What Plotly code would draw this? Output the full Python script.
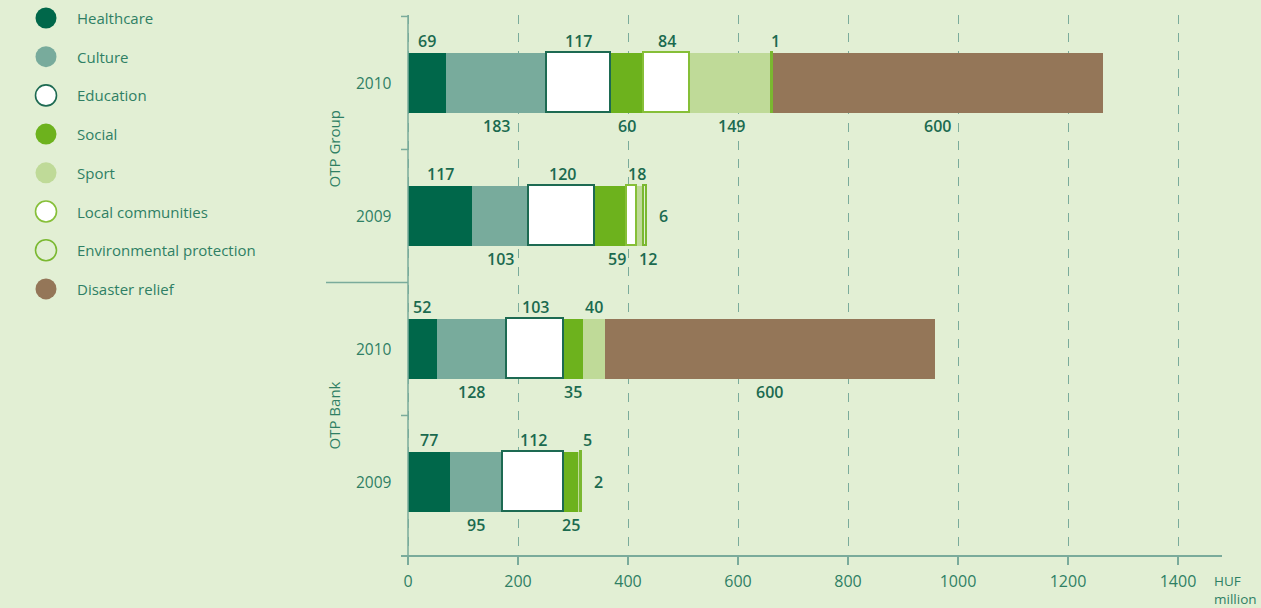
import plotly.graph_objects as go

# ---------------- data ----------------
rows = ["G2010", "G2009", "B2010", "B2009"]
row_years = ["2010", "2009", "2010", "2009"]
groups = ["OTP Group", "OTP Bank"]
series_names = ["Healthcare", "Culture", "Education", "Social",
                "Local communities", "Sport", "Environmental protection", "Disaster relief"]
healthcare = [69, 117, 52, 77]
culture = [183, 103, 128, 95]
education = [117, 120, 103, 112]
social = [60, 59, 35, 25]
local_communities = [84, 18, None, None]
sport = [149, 12, 40, 5]
environmental = [1, 6, None, 2]
disaster = [600, None, 600, None]
legend_order = ["Healthcare", "Culture", "Education", "Social", "Sport",
                "Local communities", "Environmental protection", "Disaster relief"]
x_ticks = [0, 200, 400, 600, 800, 1000, 1200, 1400]
unit_label = "HUF<br>million"

values = {
    "Healthcare": healthcare, "Culture": culture, "Education": education,
    "Social": social, "Local communities": local_communities, "Sport": sport,
    "Environmental protection": environmental, "Disaster relief": disaster,
}

# ---------------- styles ----------------
BG = "#e2efd4"
AXIS = "#7aab9b"
TXT = "#2f7f64"
NUM = "#1b6a4f"
FONT = "Open Sans"
styles = {
    "Healthcare": dict(fill="#00674a", line=None),
    "Culture": dict(fill="#78ab9c", line=None),
    "Education": dict(fill="#ffffff", line="#1d6a52"),
    "Social": dict(fill="#6db21d", line=None),
    "Local communities": dict(fill="#ffffff", line="#86bf38"),
    "Sport": dict(fill="#bfda98", line=None),
    "Environmental protection": dict(fill="rgba(0,0,0,0)", line="#7ab830"),
    "Disaster relief": dict(fill="#947658", line=None),
}

# layout geometry (pixels)
W, H = 1261, 608
L, R, T, B = 401, 39, 15, 53
PW, PH = W - L - R, H - T - B
X_MIN, X_MAX = -12.73, 1480
Y_RANGE = [3.549, -0.511]
BAR_W = 0.451


def px_x(X):
    return (X - L) / PW


def px_y(Y):
    return 1 - (Y - T) / PH


fig = go.Figure()
for name in series_names:
    st = styles[name]
    fig.add_trace(go.Bar(
        y=rows, x=values[name], orientation="h", name=name,
        width=BAR_W,
        marker=dict(color=st["fill"],
                    line=dict(color=st["line"] or st["fill"], width=1.6 if st["line"] else 0)),
        showlegend=False, hoverinfo="x+name",
    ))

num_font = dict(size=16, color=NUM, family=FONT, weight=600)

# value labels: alternate above/below among present segments; tiny last segment to the right
nudges = {("G2009", "Social"): 6, ("G2009", "Local communities"): 5,
          ("G2009", "Sport"): 7, ("B2009", "Sport"): 8, ("G2010", "Environmental protection"): 3}
annotations = []
for ri, row in enumerate(rows):
    present = [(n, values[n][ri]) for n in series_names if values[n][ri] is not None]
    cum = 0
    for k, (n, v) in enumerate(present):
        center = cum + v / 2
        end = cum + v
        cum = end
        is_last = k == len(present) - 1
        if is_last and v < 10:
            annotations.append(dict(x=end, y=row, xref="x", yref="y", text=str(v),
                                    showarrow=False, xanchor="left", xshift=10,
                                    font=num_font))
            continue
        above = k % 2 == 0
        annotations.append(dict(x=center, y=row, xref="x", yref="y", text=str(v),
                                showarrow=False, xanchor="center", yanchor="middle",
                                xshift=nudges.get((row, n), 0),
                                yshift=42 if above else -43,
                                font=num_font))

# year labels
for row, yr in zip(rows, row_years):
    annotations.append(dict(x=px_x(394), y=row, xref="paper", yref="y", text=yr,
                            showarrow=False, xanchor="right", yanchor="middle",
                            font=dict(size=15.5, color=TXT, family=FONT)))
# group labels
for gi, g in enumerate(groups):
    annotations.append(dict(x=px_x(334), y=2 * gi + 0.5, xref="paper", yref="y", text=g,
                            textangle=-90, showarrow=False, xanchor="center", yanchor="middle",
                            font=dict(size=15, color=TXT, family=FONT)))
# unit label
annotations.append(dict(x=px_x(1213), y=px_y(590), xref="paper", yref="paper",
                        text=unit_label, showarrow=False, xanchor="left", yanchor="middle",
                        align="left", borderpad=0,
                        font=dict(size=13.5, color=TXT, family=FONT)))

shapes = []
# legend (circles + labels)
for i, n in enumerate(legend_order):
    cy = 18 + i * 38.7
    st = styles[n]
    fill = st["fill"] if st["fill"] != "rgba(0,0,0,0)" else BG
    shapes.append(dict(type="circle", xref="paper", yref="paper",
                       x0=px_x(35.5), x1=px_x(56.5), y0=px_y(cy + 10.5), y1=px_y(cy - 10.5),
                       fillcolor=fill,
                       line=dict(color=st["line"] or st["fill"], width=1.6 if st["line"] else 0)))
    annotations.append(dict(x=px_x(75), y=px_y(cy), xref="paper", yref="paper", text=n,
                            showarrow=False, xanchor="left", yanchor="middle",
                            font=dict(size=15, color=TXT, family=FONT)))

# y-axis ticks at category boundaries
x0_paper = px_x(408)
for yb in [-0.5, 0.5, 2.5]:
    shapes.append(dict(type="line", xref="paper", yref="y", x0=0, x1=x0_paper, y0=yb, y1=yb,
                       line=dict(color=AXIS, width=1.5)))
# group separator
shapes.append(dict(type="line", xref="paper", yref="y", x0=px_x(326), x1=x0_paper, y0=1.5, y1=1.5,
                   line=dict(color=AXIS, width=1.5)))
# y axis line
shapes.append(dict(type="line", xref="x", yref="paper", x0=0, x1=0, y0=0, y1=px_y(15),
                   line=dict(color=AXIS, width=1.5), layer="above"))

fig.update_layout(
    width=W, height=H,
    margin=dict(l=L, r=R, t=T, b=B, pad=0),
    paper_bgcolor=BG, plot_bgcolor=BG,
    barmode="stack", bargap=0,
    annotations=annotations, shapes=shapes,
    font=dict(family=FONT, color=TXT),
    xaxis=dict(range=[X_MIN, X_MAX], tickvals=x_ticks, ticktext=[str(t) for t in x_ticks],
               showgrid=True, gridcolor=AXIS, gridwidth=1, griddash="dash",
               zeroline=False, showline=True, linecolor=AXIS, linewidth=1.5,
               ticks="outside", ticklen=8, tickcolor=AXIS, tickwidth=1.5,
               ticklabelstandoff=3,
               tickfont=dict(size=16, color=TXT, family=FONT), fixedrange=True),
    yaxis=dict(type="category", categoryarray=rows, range=Y_RANGE,
               showticklabels=False, showgrid=False, zeroline=False, showline=False,
               ticks="", fixedrange=True),
)
fig.write_html("out.html")
